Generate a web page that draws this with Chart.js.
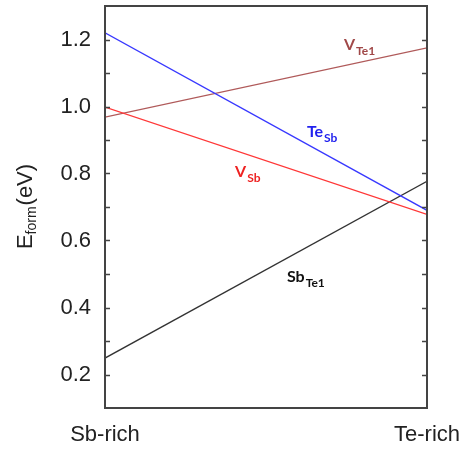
<!DOCTYPE html>
<html><head><meta charset="utf-8">
<script src="https://cdn.jsdelivr.net/npm/chart.js@4/dist/chart.umd.min.js"></script>
<style>html,body{margin:0;padding:0;background:#fff}#wrap{width:466px;height:450px}</style>
</head><body><div id="wrap"><canvas id="c" width="466" height="450"></canvas></div>
<script>
// ---- data ----
const categories = ['Sb-rich', 'Te-rich'];
const xPositions = [0, 1];
const TeSb  = [1.220, 0.690];
const VSb   = [0.998, 0.678];
const VTe1  = [0.968, 1.175];
const SbTe1 = [0.249, 0.777];
const yTickLabels = [0.2, 0.4, 0.6, 0.8, 1.0, 1.2];

// ---- annotation labels (main text + subscript) ----
const annotations = [
  {main: 'V',  sub: 'Te1', x: 0.742, y: 1.170, color: '#a04848'},
  {main: 'Te', sub: 'Sb',  x: 0.627, y: 0.910, color: '#2222ee'},
  {main: 'V',  sub: 'Sb',  x: 0.404, y: 0.791, color: '#ee2222'},
  {main: 'Sb', sub: 'Te1', x: 0.565, y: 0.477, color: '#111111'}
];

const pts = arr => arr.map((v, i) => ({x: xPositions[i], y: v}));
const ds = (label, arr, color) => ({label, data: pts(arr), borderColor: color, borderWidth: 1.3,
  pointRadius: 0, fill: false, tension: 0});

const noPad = s => { s.paddingLeft = 0; s.paddingRight = 0; s.paddingTop = 0; s.paddingBottom = 0; };

const decor = {
  id: 'decor',
  afterDatasetsDraw(chart) {
    const {ctx, chartArea: a, scales: {x, y}} = chart;
    ctx.save();
    // inner ticks every 0.1 on both sides
    ctx.strokeStyle = '#444'; ctx.lineWidth = 1.5;
    for (let k = 2; k <= 12; k++) {
      const py = Math.round(y.getPixelForValue(k / 10)) + 0.5;
      ctx.beginPath();
      ctx.moveTo(a.left, py); ctx.lineTo(a.left + 5, py);
      ctx.moveTo(a.right, py); ctx.lineTo(a.right - 5, py);
      ctx.stroke();
    }
    // frame
    ctx.lineWidth = 2; ctx.strokeStyle = '#444';
    ctx.strokeRect(a.left, a.top, a.right - a.left, a.bottom - a.top);
    // annotations
    ctx.textBaseline = 'alphabetic'; ctx.textAlign = 'left';
    annotations.forEach(an => {
      const px = x.getPixelForValue(an.x), py = y.getPixelForValue(an.y);
      ctx.fillStyle = an.color;
      ctx.font = 'bold 16px Lato';
      ctx.fillText(an.main, px, py);
      const w = ctx.measureText(an.main).width;
      ctx.font = 'bold 12px Lato';
      ctx.fillText(an.sub, px + w + 1, py + 5);
    });
    // y axis title with subscript
    ctx.fillStyle = '#222';
    const big = '22px "Liberation Sans"', small = '14px "Liberation Sans"';
    ctx.font = big; const wE = ctx.measureText('E').width; const wP = ctx.measureText('(eV)').width;
    ctx.font = small; const wF = ctx.measureText('form').width;
    const total = wE + wF + wP;
    const cy = (a.top + a.bottom) / 2;
    ctx.translate(a.left - 73, cy + total / 2);
    ctx.rotate(-Math.PI / 2);
    ctx.font = big; ctx.fillText('E', 0, 0);
    ctx.font = small; ctx.fillText('form', wE, 4);
    ctx.font = big; ctx.fillText('(eV)', wE + wF + 1, 0);
    ctx.restore();
  }
};

new Chart(document.getElementById('c'), {
  type: 'line',
  data: {datasets: [ds('TeSb', TeSb, '#3838ff'), ds('VSb', VSb, '#ff3838'),
                    ds('VTe1', VTe1, '#b05a5a'), ds('SbTe1', SbTe1, '#333333')]},
  options: {
    responsive: false, animation: false,
    layout: {padding: {left: 0, top: 6, right: 39, bottom: 0}},
    plugins: {legend: {display: false}, tooltip: {enabled: false}},
    scales: {
      x: {type: 'linear', min: 0, max: 1,
          afterBuildTicks: s => { s.ticks = xPositions.map(v => ({value: v})); },
          afterFit: s => { s.height = 42; noPad(s); },
          grid: {display: false, drawTicks: false}, border: {display: false},
          ticks: {padding: 14, color: '#222', maxRotation: 0, autoSkip: false,
                  font: {family: '"Liberation Sans"', size: 22},
                  callback: v => categories[xPositions.indexOf(v)]}},
      y: {type: 'linear', min: 0.1, max: 1.3,
          afterBuildTicks: s => { s.ticks = yTickLabels.map(v => ({value: v})); },
          afterFit: s => { s.width = 105; noPad(s); },
          grid: {display: false, drawTicks: false}, border: {display: false},
          ticks: {padding: 14, color: '#222',
                  font: {family: '"Liberation Sans"', size: 22},
                  callback: v => v.toFixed(1)}}
    }
  },
  plugins: [decor]
});
</script></body></html>
